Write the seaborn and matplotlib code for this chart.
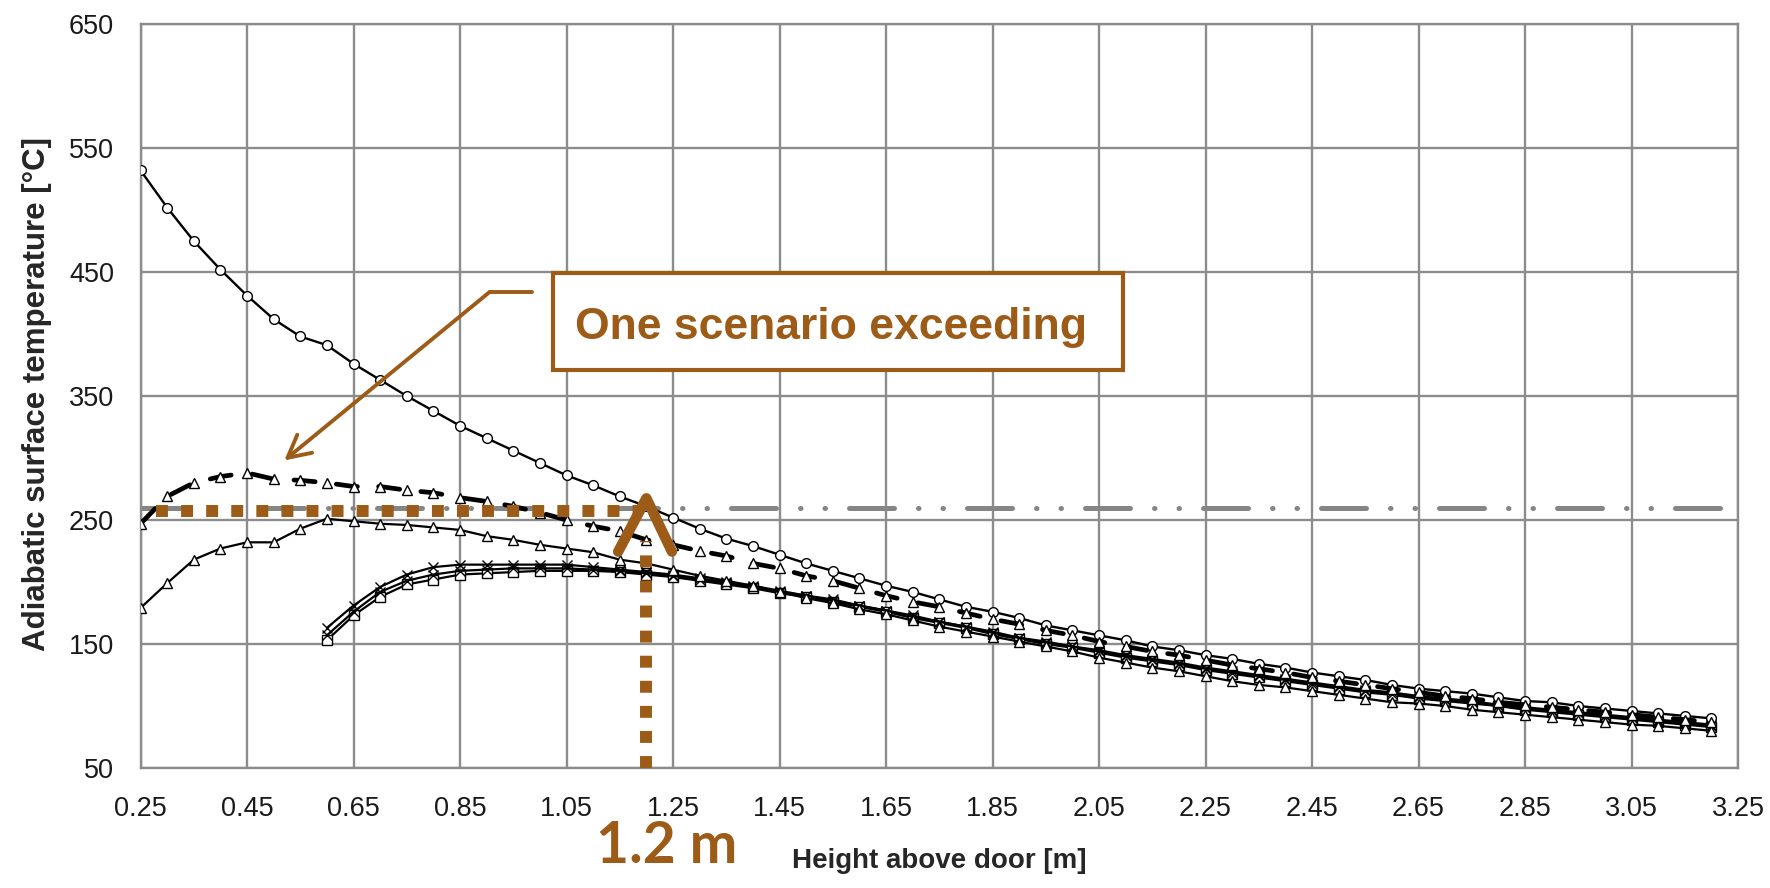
import numpy as np
import matplotlib
matplotlib.use("Agg")
import matplotlib.pyplot as plt
import seaborn as sns
from matplotlib.patches import Rectangle

# heights above the door [m], one point every 0.05 m
heights_all = np.round(np.arange(0.25, 3.2001, 0.05), 2)   # 0.25 .. 3.20
heights_late = np.round(np.arange(0.60, 3.2001, 0.05), 2)  # 0.60 .. 3.20

# circles, solid
temp_circle = [532, 502, 475, 452, 431, 412, 398, 391, 376, 363, 350, 338, 326, 316, 306,
               296, 286, 278, 269, 261, 252, 243, 235, 229, 222, 215, 209, 203, 197, 192,
               186, 180, 176, 171, 165, 161, 157, 153, 148, 145, 141, 138, 134, 131, 127,
               124, 121, 117, 114, 112, 110, 107, 104, 103, 100, 98, 96, 94, 92, 90]
# triangles, dashed (the exceeding scenario)
temp_tri_dash = [247, 269, 280, 285, 288, 283, 282, 280, 277, 277, 274, 272, 268, 265, 261,
                 256, 250, 245, 241, 234, 230, 225, 221, 215, 211, 205, 201, 195, 189, 184,
                 180, 175, 170, 166, 161, 157, 152, 148, 144, 141, 137, 133, 130, 127, 123,
                 120, 117, 114, 111, 108, 106, 103, 101, 99, 97, 95, 93, 91, 89, 87]
# triangles, solid
temp_tri = [179, 199, 218, 227, 232, 232, 243, 251, 249, 247, 246, 244, 242, 237, 234,
            230, 227, 224, 218, 215, 210, 205, 201, 197, 192, 187, 183, 178, 174, 169,
            164, 160, 156, 152, 148, 144, 139, 135, 131, 128, 124, 120, 117, 115, 112,
            109, 106, 103, 102, 100, 97, 95, 93, 91, 89, 87, 85, 84, 82, 80]
# series starting at 0.60 m
temp_cross_a = [163, 181, 196, 206, 212, 214, 214, 214,
                214, 214, 212, 210, 208, 206, 203, 200, 197, 193, 189, 186, 181, 177, 173, 168,
                164, 160, 155, 152, 148, 145, 141, 138, 135, 131, 128, 125, 122, 119, 116, 113,
                111, 108, 106, 104, 101, 99, 97, 95, 93, 91, 89, 87, 85]
temp_cross_b = [157, 176, 192, 201, 206, 209, 210, 211,
                211, 211, 210, 209, 207, 205, 202, 199, 196, 192, 189, 185, 181, 177, 172, 168,
                164, 159, 155, 151, 148, 144, 140, 137, 134, 130, 127, 124, 121, 118, 115, 112,
                110, 107, 105, 103, 100, 98, 96, 94, 92, 90, 88, 86, 84]
temp_plain = [153, 173, 188, 198, 202, 206, 207, 208,
              209, 209, 209, 208, 206, 204, 201, 198, 195, 191, 188, 184, 180, 176, 171, 167,
              163, 158, 154, 150, 147, 143, 139, 136, 133, 129, 126, 123, 120, 117, 114, 111,
              109, 106, 104, 102, 100, 97, 95, 93, 91, 89, 87, 85, 83]

limit_temp = 260
xticks = np.round(np.arange(0.25, 3.2501, 0.2), 2)
yticks = [50, 150, 250, 350, 450, 550, 650]

brown = "#9C5B17"
grid_gray = "#8c8c8c"

sns.set_style("white")
plt.rcParams["font.family"] = ["Liberation Sans", "DejaVu Sans"]

fig = plt.figure(figsize=(17.7, 8.88), dpi=100)
ax = fig.add_axes([140.5 / 1770, 1 - 768 / 888, (1738 - 140.5) / 1770, (768 - 24) / 888])

mk = dict(color="black", markerfacecolor="white", markeredgecolor="black",
          markeredgewidth=1.0, markersize=7, sort=False, estimator=None)

sns.lineplot(x=heights_late, y=temp_plain, ax=ax, marker="s", lw=1.6, zorder=3, **mk)
sns.lineplot(x=heights_late, y=temp_cross_b, ax=ax, marker="x", lw=1.6, zorder=3, **mk)
sns.lineplot(x=heights_late, y=temp_cross_a, ax=ax, marker="x", lw=1.6, zorder=3, **mk)
sns.lineplot(x=heights_all, y=temp_tri, ax=ax, marker="^", lw=1.6, zorder=4, **mk)
sns.lineplot(x=heights_all, y=temp_circle, ax=ax, marker="o", lw=1.7, zorder=4, **mk)
sns.lineplot(x=heights_all, y=temp_tri_dash, ax=ax, marker="^", lw=3.4, zorder=5, **mk)
dash_line = ax.lines[-1]
dash_line.set_dashes((4.5, 4.5))
dash_line.set_dash_capstyle("round")

# limit line (dash-dot-dot)
lim = ax.axhline(limit_temp, color="#858585", lw=3.6, zorder=2,
                 dashes=(9, 4.8, 0.1, 4.8, 0.1, 4.8))
lim.set_dash_capstyle("round")

ax.set_xlim(0.25, 3.25)
ax.set_ylim(50, 650)
ax.set_xticks(xticks)
ax.set_xticklabels([f"{t:.2f}" for t in xticks])
ax.set_yticks(yticks)
ax.grid(True, color=grid_gray, lw=1.7)
ax.set_axisbelow(True)
for s in ax.spines.values():
    s.set_color(grid_gray)
    s.set_linewidth(1.7)
ax.tick_params(axis="x", length=0, pad=20, labelsize=19.5, labelcolor="#1a1a1a")
ax.tick_params(axis="y", length=0, pad=19, labelsize=19.5, labelcolor="#1a1a1a")

# brown annotation: dotted guide lines at 1.2 m
ax.plot([0.28, 1.19], [257, 257], color=brown, lw=8.6, dashes=(1, 1.1),
        solid_capstyle="butt", zorder=7)
ax.plot([1.2, 1.2], [50, 233], color=brown, lw=8.6, dashes=(1, 1.1), zorder=7)
ax.plot([1.147, 1.2, 1.248], [224.5, 267.5, 224.5], color=brown, lw=7.5,
        solid_capstyle="round", solid_joinstyle="round", zorder=8)

# callout box with leader arrow
ax.add_patch(Rectangle((1.024, 371), 2.096 - 1.024, 449.2 - 371, facecolor="white",
                       edgecolor=brown, lw=3, zorder=9))
ax.text(1.546, 395.6, "One scenario exceeding", ha="center", va="baseline",
        fontsize=32, fontweight="bold", color=brown, zorder=10)
ax.plot([0.906, 0.985], [434, 434], color=brown, lw=2.8, zorder=9)
ax.annotate("", xy=(0.52, 298), xytext=(0.906, 434),
            arrowprops=dict(arrowstyle="->,head_length=0.8,head_width=0.42",
                            color=brown, lw=2.8, shrinkA=0, shrinkB=0,
                            mutation_scale=20), zorder=9)

fig.text(37 / 1770, 1 - 394 / 888, "Adiabatic surface temperature [°C]", rotation=90,
         ha="center", va="center", fontsize=22.5, fontweight="bold")
fig.text(939.5 / 1770, 1 - 868 / 888, "Height above door [m]", ha="center",
         va="baseline", fontsize=20, fontweight="bold")
fig.text(596 / 1770, 1 - 863 / 888, "1.2 m", ha="left", va="baseline", fontsize=41,
         fontweight="bold", color=brown, family=["Lato", "DejaVu Sans"])

fig.savefig("out.png", dpi=100)
